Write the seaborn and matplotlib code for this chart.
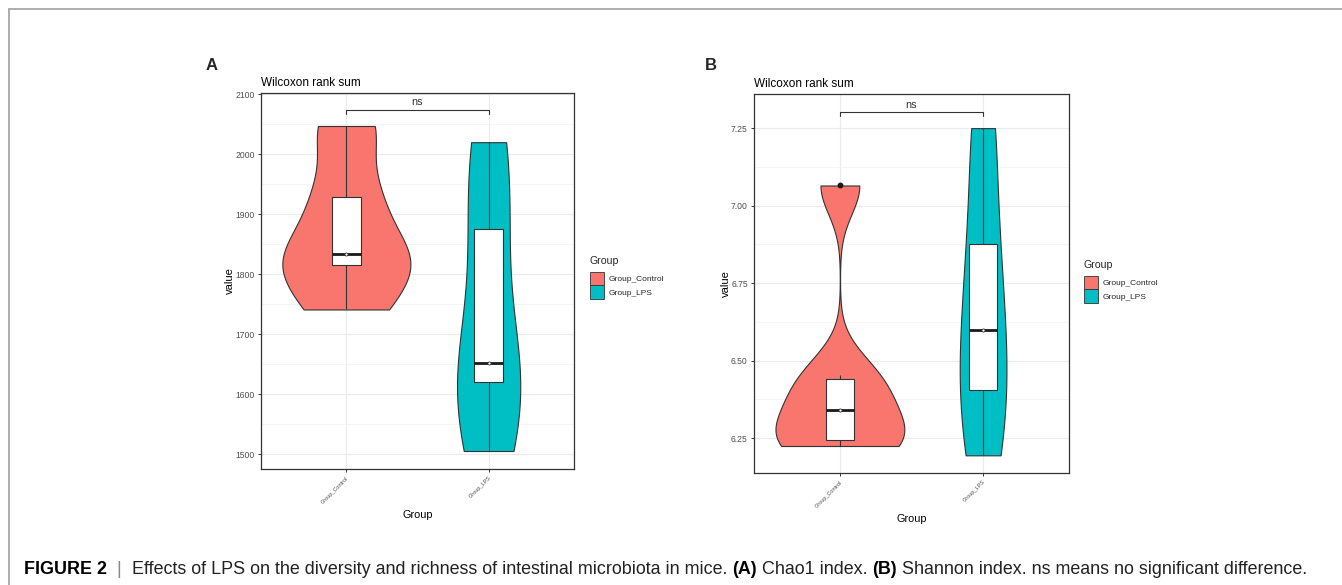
import numpy as np
import pandas as pd
import matplotlib
matplotlib.use("Agg")
import matplotlib.pyplot as plt
from matplotlib.lines import Line2D
from matplotlib.patches import Patch
from matplotlib.ticker import MultipleLocator
import seaborn as sns

# ---- data -------------------------------------------------------------
groups = ["Group_Control", "Group_LPS"]
chao1_control = [1741, 1815, 1834, 1928, 2047]
chao1_lps = [1505, 1620, 1651, 1875, 2020]
shannon_control = [6.225, 6.232, 6.285, 6.395, 6.455, 7.065]
shannon_lps = [6.195, 6.405, 6.600, 6.875, 7.250]
palette = {"Group_Control": "#F8766D", "Group_LPS": "#00BFC4"}

sns.set_theme(style="white")
plt.rcParams["font.family"] = ["Liberation Sans", "DejaVu Sans"]

W, H = 1342, 585
fig = plt.figure(figsize=(W / 100, H / 100), dpi=100)
fig.patch.set_facecolor("white")


def frac(x0, y0, x1, y1):
    return [x0 / W, 1 - y1 / H, (x1 - x0) / W, (y1 - y0) / H]


def nrd0(kde):
    # Silverman's rule of thumb as used by R's bw.nrd0, expressed as a factor
    x = np.asarray(kde.dataset).ravel()
    sd = x.std(ddof=1)
    q75, q25 = np.percentile(x, [75, 25])
    lo = min(sd, (q75 - q25) / 1.34)
    if lo <= 0:
        lo = sd
    return 0.9 * lo * len(x) ** -0.2 / sd


def panel(ax, ctrl, lps, ylim, major, minor, bracket_y, tick_drop, ns_y):
    df = pd.DataFrame({
        "Group": [groups[0]] * len(ctrl) + [groups[1]] * len(lps),
        "value": list(ctrl) + list(lps),
    })
    ax.set_facecolor("white")
    ax.set_axisbelow(True)
    sns.violinplot(data=df, x="Group", y="value", hue="Group", order=groups,
                   palette=palette, saturation=1, cut=0, inner=None,
                   bw_method=nrd0, density_norm="area", common_norm=True,
                   width=0.9, linecolor="#333333", linewidth=0.8,
                   legend=False, ax=ax, zorder=2)
    sns.boxplot(data=df, x="Group", y="value", order=groups, color="white",
                saturation=1, width=0.2, linecolor="#333333", linewidth=0.8,
                showcaps=False,
                medianprops=dict(color="#1a1a1a", linewidth=2.0),
                flierprops=dict(marker="o", markerfacecolor="#1a1a1a",
                                markeredgecolor="#1a1a1a", markersize=3.2),
                ax=ax, zorder=3)
    sns.pointplot(data=df, x="Group", y="value", order=groups,
                  estimator="median", errorbar=None, linestyle="none",
                  marker="o", markersize=2.2, markeredgewidth=0.6,
                  color="#333333", markerfacecolor="white", ax=ax, zorder=4)

    # significance bracket
    ax.plot([0, 0, 1, 1], [bracket_y - tick_drop, bracket_y, bracket_y, bracket_y - tick_drop],
            color="#333333", linewidth=0.8, zorder=5, clip_on=False)
    ax.text(0.5, ns_y, "ns", ha="center", va="bottom", fontsize=7.8, color="#333333")

    ax.set_xlim(-0.6, 1.6)
    ax.set_ylim(*ylim)
    ax.yaxis.set_major_locator(MultipleLocator(major))
    ax.yaxis.set_minor_locator(MultipleLocator(minor))
    ax.grid(True, which="major", color="#EBEBEB", linewidth=0.8)
    ax.grid(True, which="minor", axis="y", color="#F2F2F2", linewidth=0.5)
    for s in ax.spines.values():
        s.set_color("#333333")
        s.set_linewidth(0.9)
        s.set_visible(True)
    ax.tick_params(axis="both", which="major", length=2.5, width=0.7,
                   color="#333333", direction="out", bottom=True, left=True)
    ax.tick_params(axis="both", which="minor", length=0)
    ax.tick_params(axis="y", labelsize=6.2, labelcolor="#4D4D4D", pad=2)
    ax.tick_params(axis="x", labelsize=4.0, labelcolor="#4D4D4D", pad=2)
    for lab in ax.get_xticklabels():
        lab.set_rotation(45)
        lab.set_ha("right")
        lab.set_rotation_mode("anchor")
    ax.set_xlabel("Group", fontsize=7.8, color="black", labelpad=4)
    ax.set_ylabel("value", fontsize=8, color="black", labelpad=0)
    ax.set_title("Wilcoxon rank sum", loc="left", fontsize=8.5, pad=5, color="black")


axA = fig.add_axes(frac(261, 93, 574, 469))
panel(axA, chao1_control, chao1_lps, (1475, 2102), 100, 50, 2074, 7, 2079)
axA.set_yticks([1500, 1600, 1700, 1800, 1900, 2000, 2100])

axB = fig.add_axes(frac(754, 94, 1069, 473))
panel(axB, shannon_control, shannon_lps, (6.138, 7.36), 0.25, 0.125, 7.3025, 0.013, 7.31)
axB.set_yticks([6.25, 6.50, 6.75, 7.00, 7.25])
axB.set_yticklabels(["6.25", "6.50", "6.75", "7.00", "7.25"])

# legends
handles = [Patch(facecolor=palette[g], edgecolor="#333333", linewidth=0.6, label=g) for g in groups]
for lx, ly in [(590, 256), (1084, 260)]:
    leg = fig.legend(handles=handles, title="Group", loc="upper left",
                     bbox_to_anchor=(lx / W, 1 - ly / H), frameon=False,
                     fontsize=6, title_fontsize=7.6, handlelength=1.7,
                     handleheight=2.15, handletextpad=0.55, labelspacing=0.0,
                     borderpad=0, borderaxespad=0)
    leg._legend_box.align = "left"
    leg._legend_box.sep = 4

# panel letters
fig.text(206 / W, 1 - 66 / H, "A", fontsize=12, fontweight="bold", va="center", ha="left")
fig.text(705 / W, 1 - 66 / H, "B", fontsize=12, fontweight="bold", va="center", ha="left")

# page frame
fig.add_artist(Line2D([9 / W, 1], [1 - 9 / H, 1 - 9 / H], color="#A0A0A0", linewidth=1.2))
fig.add_artist(Line2D([9 / W, 9 / W], [0, 1 - 9 / H], color="#A0A0A0", linewidth=1.2))

# caption, drawn piece by piece to mix weights
pieces = [
    ("FIGURE 2", "bold", "black"),
    ("  |  ", "normal", "#888888"),
    ("Effects of LPS on the diversity and richness of intestinal microbiota in mice. ", "normal", "#222222"),
    ("(A)", "bold", "black"),
    (" Chao1 index. ", "normal", "#222222"),
    ("(B)", "bold", "black"),
    (" Shannon index. ns means no significant difference.", "normal", "#222222"),
]
fig.canvas.draw()
renderer = fig.canvas.get_renderer()
x = 24
for txt, wt, col in pieces:
    t = fig.text(x / W, 1 - 569 / H, txt, fontsize=12.9, fontweight=wt, color=col,
                 va="center", ha="left")
    bb = t.get_window_extent(renderer=renderer)
    x += bb.width

fig.savefig("out.png", dpi=100, facecolor="white")
